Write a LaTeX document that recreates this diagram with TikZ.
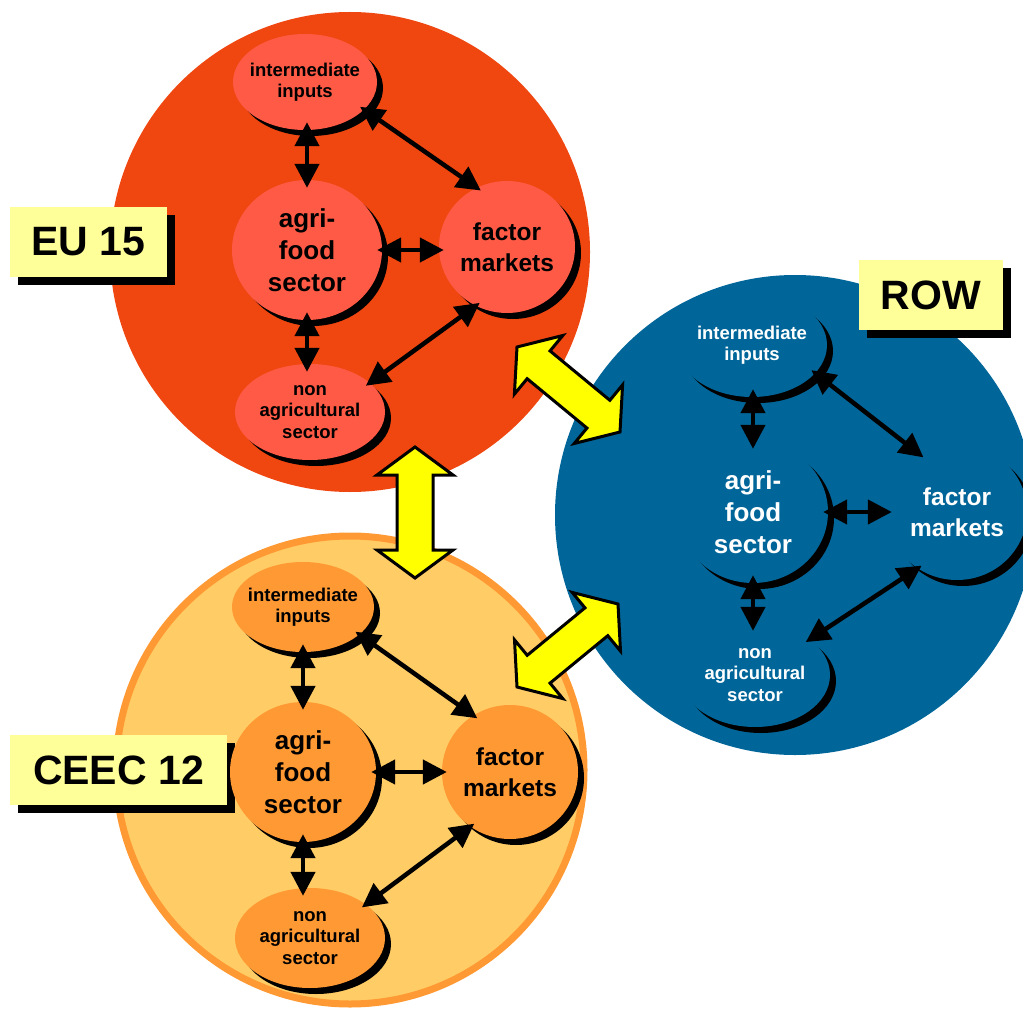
\documentclass[tikz,border=0pt]{standalone}
\usepackage{fontspec}
\setmainfont{Liberation Sans}
\usetikzlibrary{shapes.geometric,arrows.meta,calc}
\definecolor{euBig}{HTML}{F04610}
\definecolor{euSmall}{HTML}{FF5A45}
\definecolor{ceBig}{HTML}{FFCC66}
\definecolor{ceRim}{HTML}{FF9933}
\definecolor{ceSmall}{HTML}{FF9933}
\definecolor{rowBlue}{HTML}{006699}
\definecolor{labelYellow}{HTML}{FFFF99}
\definecolor{arrYellow}{HTML}{FFFF00}
\tikzset{
  shadowfill/.style={preaction={fill=black, transform canvas={xshift=#1, yshift=-#1}}},
  sub/.style={ellipse, inner sep=-20pt, align=center, shadowfill=6pt,
    font=\bfseries\fontsize{18.5}{21.5}\selectfont},
  subbig/.style={sub, font=\bfseries\fontsize{26}{32}\selectfont},
  subfm/.style={sub, font=\bfseries\fontsize{24.5}{31}\selectfont},
  eusub/.style={sub, fill=euSmall},
  eubig/.style={subbig, fill=euSmall},
  eufm/.style={subfm, fill=euSmall},
  cesub/.style={sub, fill=ceSmall},
  cebig/.style={subbig, fill=ceSmall},
  cefm/.style={subfm, fill=ceSmall},
  rowsub/.style={sub, fill=rowBlue, text=white},
  rowbig/.style={subbig, fill=rowBlue, text=white},
  rowfm/.style={subfm, fill=rowBlue, text=white},
  tag/.style={rectangle, fill=labelYellow, inner sep=0pt, shadowfill=8pt,
    font=\bfseries\fontsize{41}{45}\selectfont},
  link/.style={line width=4.5pt, shorten <=-5pt, shorten >=-5pt,
    {Triangle[length=24pt,width=24pt]}-{Triangle[length=24pt,width=24pt]}},
  vlink/.style={link, shorten <=-8pt, shorten >=-8pt},
  yarrow/.style={draw=black, line width=3pt, fill=arrYellow, line join=miter},
  bigcircle/.style={circle, inner sep=0pt}
}
\newcommand\yellowarrow[2]{%
  \draw[yarrow] (#1)
    -- ($(#1)!28pt!(#2)!38pt!90:(#2)$)
    -- ($(#1)!28pt!(#2)!18pt!90:(#2)$)
    -- ($(#2)!28pt!(#1)!18pt!-90:(#1)$)
    -- ($(#2)!28pt!(#1)!38pt!-90:(#1)$)
    -- (#2)
    -- ($(#2)!28pt!(#1)!38pt!90:(#1)$)
    -- ($(#2)!28pt!(#1)!18pt!90:(#1)$)
    -- ($(#1)!28pt!(#2)!18pt!-90:(#2)$)
    -- ($(#1)!28pt!(#2)!38pt!-90:(#2)$)
    -- cycle;}
\begin{document}
\begin{tikzpicture}[x=1pt, y=-1pt]
\clip (0,0) rectangle (1023,1011);
\fill[white] (0,0) rectangle (1023,1011);

% big circles
\node[bigcircle, fill=euBig, minimum size=480pt] (eu) at (350,252) {};
\node[bigcircle, fill=ceBig, draw=ceRim, line width=7pt, minimum size=468pt] (ce) at (350,770) {};
\node[bigcircle, fill=rowBlue, minimum size=480pt] (row) at (795,515) {};

% region labels
\node[tag, minimum width=157pt, minimum height=70pt] (lab-eu) at (88.5,242) {EU 15};
\node[tag, minimum width=217pt, minimum height=70pt] (lab-ce) at (118.5,770) {CEEC 12};
\node[tag, minimum width=144pt, minimum height=70pt] (lab-row) at (931,295) {ROW};

% yellow trade arrows
\coordinate (y1a) at (415,447);
\coordinate (y1b) at (415,578);
\coordinate (y2a) at (517,347);
\coordinate (y2b) at (620,432);
\coordinate (y3a) at (517,687);
\coordinate (y3b) at (618,604);
\yellowarrow{y1a}{y1b}
\yellowarrow{y2a}{y2b}
\yellowarrow{y3a}{y3b}

% EU 15
\node[eusub, minimum width=144pt, minimum height=96pt] (eu-ii) at (305,82) {intermediate\\inputs};
\node[eubig, minimum width=150pt, minimum height=140pt] (eu-af) at (307,250) {agri-\\food\\sector};
\node[eufm, minimum width=136pt, minimum height=132pt] (eu-fm) at (507,247) {factor\\markets};
\node[eusub, minimum width=150pt, minimum height=96pt] (eu-na) at (310,412) {non\\agricultural\\sector};
\draw[vlink] (eu-af.north) -- (eu-af.north |- eu-ii.south);
\draw[link] (eu-ii.-25) -- (eu-fm.117);
\draw[link] (eu-af.east) -- (eu-af.east -| eu-fm.west);
\draw[vlink] (eu-af.south) -- (eu-af.south |- eu-na.north);
\draw[link] (eu-fm.242) -- (eu-na.26);

% CEEC 12
\node[cesub, minimum width=142pt, minimum height=90pt] (ce-ii) at (303,607) {intermediate\\inputs};
\node[cebig, minimum width=146pt, minimum height=140pt] (ce-af) at (303,772) {agri-\\food\\sector};
\node[cefm, minimum width=136pt, minimum height=134pt] (ce-fm) at (510,772) {factor\\markets};
\node[cesub, minimum width=150pt, minimum height=100pt] (ce-na) at (310,938) {non\\agricultural\\sector};
\draw[vlink] (ce-af.north) -- (ce-af.north |- ce-ii.south);
\draw[link] (ce-ii.-26) -- (ce-fm.123);
\draw[link] (ce-af.east) -- (ce-af.east -| ce-fm.west);
\draw[vlink] (ce-af.south) -- (ce-af.south |- ce-na.north);
\draw[link] (ce-fm.234) -- (ce-na.31);

% ROW
\node[rowsub, minimum width=150pt, minimum height=104pt] (row-ii) at (752,345) {intermediate\\inputs};
\node[rowbig, minimum width=150pt, minimum height=142pt] (row-af) at (753,512) {agri-\\food\\sector};
\node[rowfm, minimum width=140pt, minimum height=136pt] (row-fm) at (957,512) {factor\\markets};
\node[rowsub, minimum width=150pt, minimum height=104pt] (row-na) at (755,675) {non\\agricultural\\sector};
\draw[vlink] (row-af.north) -- (row-af.north |- row-ii.south);
\draw[link] (row-ii.-24) -- (row-fm.123);
\draw[link] (row-af.east) -- (row-af.east -| row-fm.west);
\draw[vlink] (row-af.south) -- (row-af.south |- row-na.north);
\draw[link] (row-fm.235) -- (row-na.33);
\end{tikzpicture}
\end{document}
